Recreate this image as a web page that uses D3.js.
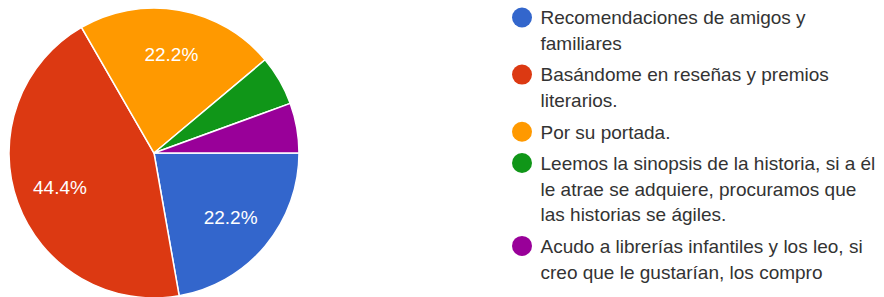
<!DOCTYPE html>
<html><head><meta charset="utf-8">
<script src="https://cdn.jsdelivr.net/npm/d3@7"></script>
<style>html,body{margin:0;padding:0;background:#fff;}svg{display:block;}</style>
</head><body>
<svg id="chart" width="884" height="297"></svg>
<script>
const categories = [
  "Recomendaciones de amigos y familiares",
  "Basándome en reseñas y premios literarios.",
  "Por su portada.",
  "Leemos la sinopsis de la historia, si a él le atrae se adquiere, procuramos que las historias se ágiles.",
  "Acudo a librerías infantiles y los leo, si creo que le gustarían, los compro"
];
const legendLines = [
  ["Recomendaciones de amigos y", "familiares"],
  ["Basándome en reseñas y premios", "literarios."],
  ["Por su portada."],
  ["Leemos la sinopsis de la historia, si a él", "le atrae se adquiere, procuramos que", "las historias se ágiles."],
  ["Acudo a librerías infantiles y los leo, si", "creo que le gustarían, los compro"]
];
const values = [4, 8, 4, 1, 1];
const colors = ["#3366cc", "#dc3912", "#ff9900", "#109618", "#990099"];

const svg = d3.select("#chart");
const cx = 154, cy = 153, r = 145;
const total = d3.sum(values);
const pie = d3.pie().sort(null).startAngle(Math.PI/2).endAngle(Math.PI/2 + 2*Math.PI);
const arcs = pie(values);
const arc = d3.arc().innerRadius(0).outerRadius(r);
const labelArc = d3.arc().innerRadius(0).outerRadius(r*1.38);
const g = svg.append("g").attr("transform", `translate(${cx},${cy})`);
g.selectAll("path").data(arcs).join("path")
  .attr("d", arc).attr("fill", (d,i)=>colors[i])
  .attr("stroke", "#fff").attr("stroke-width", 1.5);
g.selectAll("text").data(arcs.filter(d => d.value/total > 0.1)).join("text")
  .attr("transform", d => `translate(${labelArc.centroid(d)})`)
  .attr("text-anchor", "middle").attr("dy", "0.36em")
  .attr("fill", "#fff").style("font-family", "'Liberation Sans', Arial, sans-serif").style("font-size", "19px")
  .text(d => d3.format(".1%")(d.value/total));

const lg = svg.append("g");
const lineH = 25.8, gap = 5.5;
let y = 17.5;
legendLines.forEach((lines, i) => {
  lg.append("circle").attr("cx", 522).attr("cy", y).attr("r", 10).attr("fill", colors[i]);
  const t = lg.append("text").attr("x", 540.5).attr("y", y)
    .attr("fill", "#333").style("font-family", "'Liberation Sans', Arial, sans-serif").style("font-size", "19px");
  lines.forEach((l, j) => {
    t.append("tspan").attr("x", 540.5).attr("y", y + j*lineH).attr("dy", "0.36em").text(l);
  });
  y += lines.length * lineH + gap;
});
</script>
</body></html>
